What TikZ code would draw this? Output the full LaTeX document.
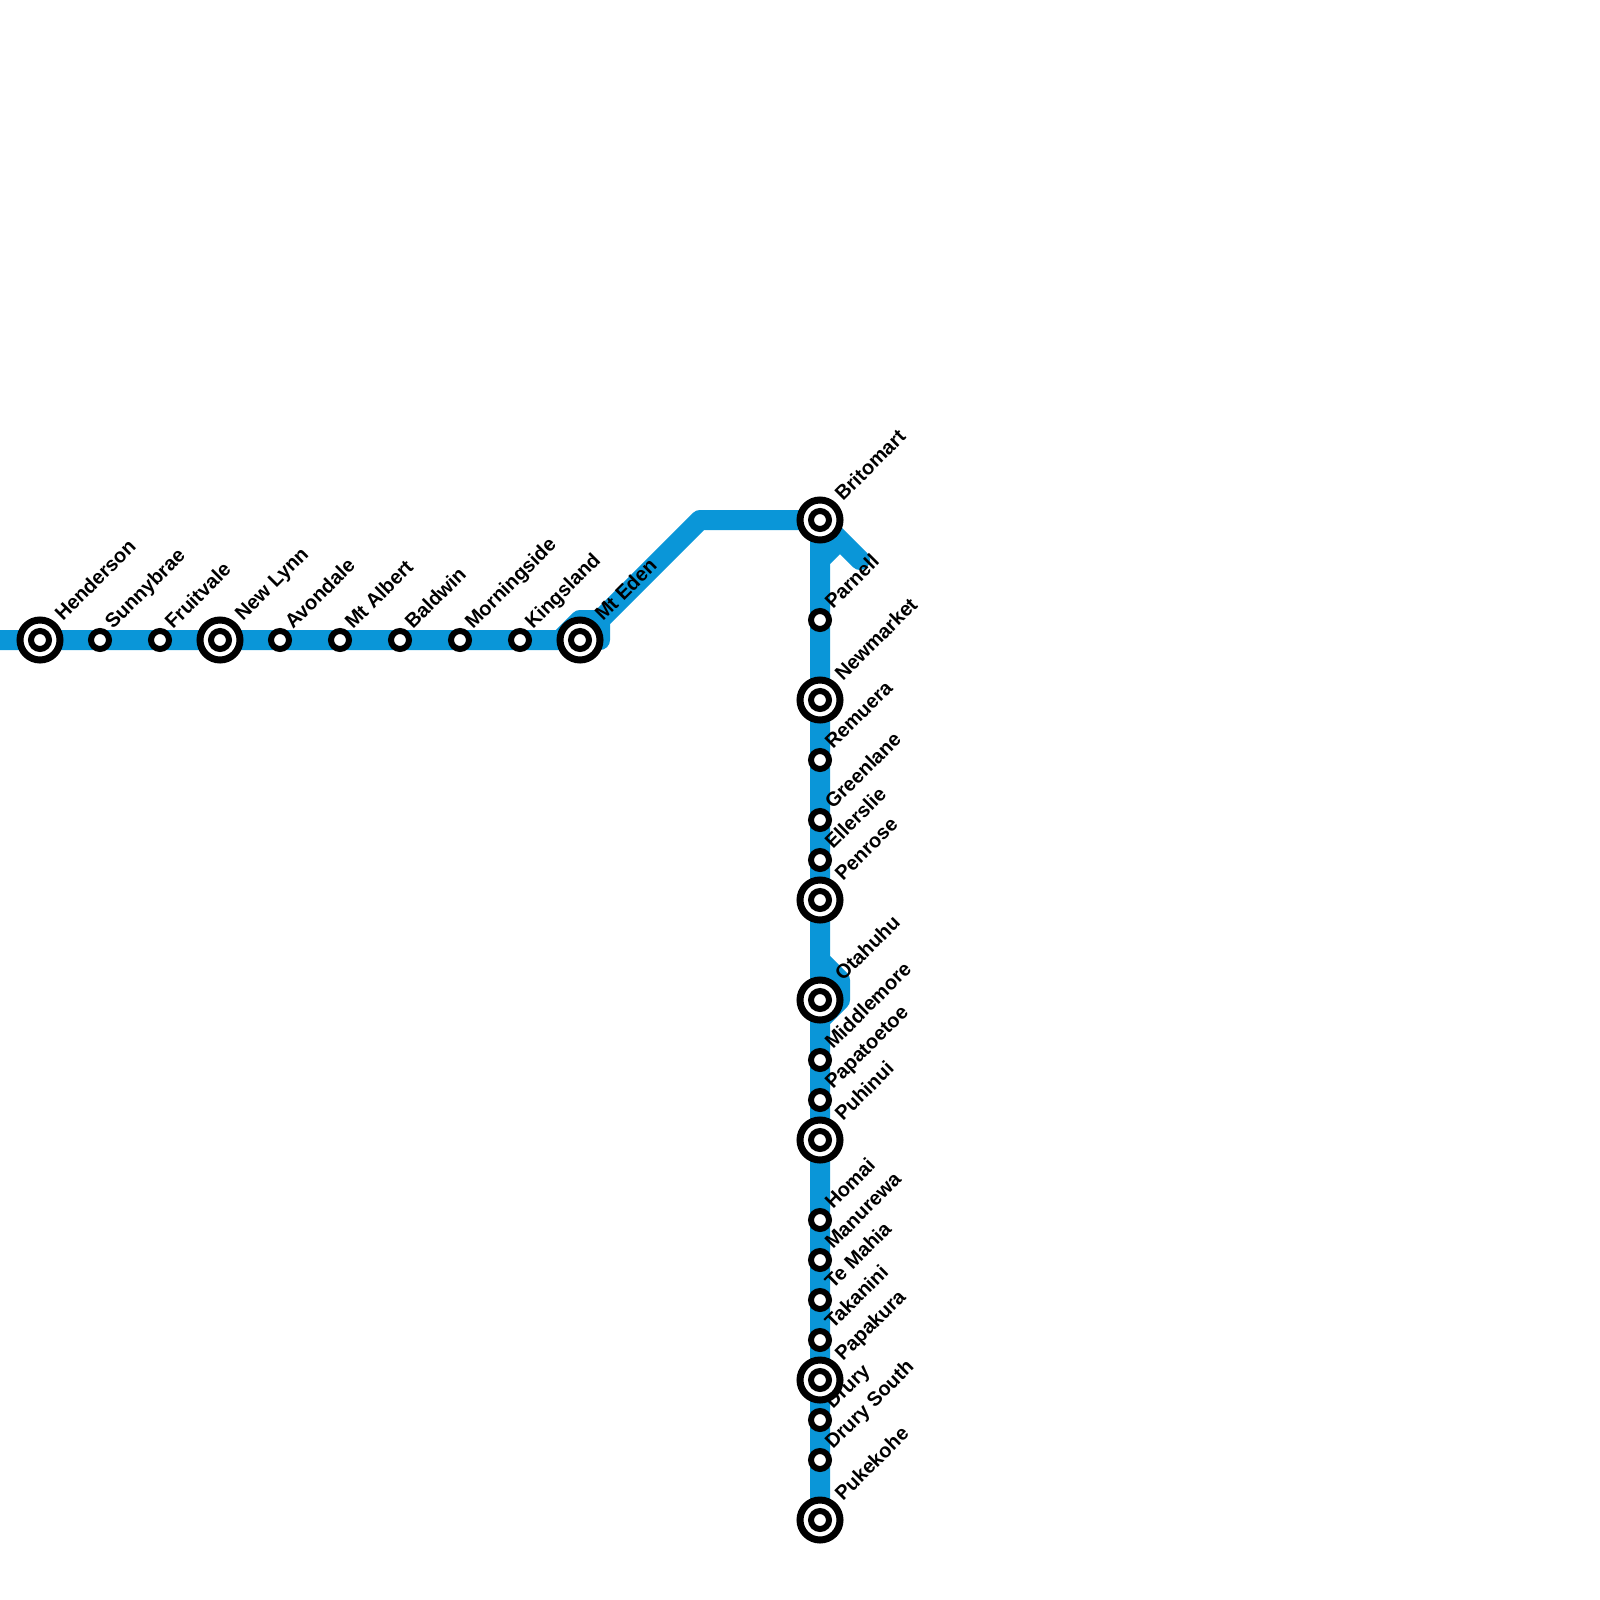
\documentclass[tikz,border=0pt]{standalone}
\usepackage{fontspec}
\setmainfont{Liberation Sans}
\usetikzlibrary{backgrounds,calc}
\definecolor{linecol}{HTML}{0A96D8}
\tikzset{
  metroline/.style={draw=linecol,line width=20pt,line join=round,line cap=round},
  bigst/.style={circle,draw=black,fill=white,line width=7pt,minimum size=40pt,inner sep=0pt,
    path picture={\draw[black,line width=6pt] (path picture bounding box.center) circle (9pt);}},
  smallst/.style={circle,draw=black,fill=white,line width=6pt,minimum size=18pt,inner sep=0pt},
  stlabel/.style={rotate=45,anchor=base west,inner sep=0pt,text=black,font=\bfseries\fontsize{20}{24}\selectfont}
}
\begin{document}
\begin{tikzpicture}[x=1pt,y=-1pt]
\useasboundingbox (0,0) rectangle (1600,1600);
\foreach \id/\px/\py/\txt in {
  henderson/40/640/Henderson, newlynn/220/640/New Lynn, mteden/580/640/Mt Eden,
  britomart/820/520/Britomart, newmarket/820/700/Newmarket, penrose/820/900/Penrose,
  otahuhu/820/1000/Otahuhu, puhinui/820/1140/Puhinui, papakura/820/1380/Papakura,
  pukekohe/820/1520/Pukekohe}{
  \node[bigst] (\id) at (\px,\py) {};
  \node[stlabel] (\id-l) at ($(\id)+(23,-18)$) {\txt};
}
\foreach \id/\px/\py/\txt in {
  sunnybrae/100/640/Sunnybrae, fruitvale/160/640/Fruitvale, avondale/280/640/Avondale,
  mtalbert/340/640/Mt Albert, baldwin/400/640/Baldwin, morningside/460/640/Morningside,
  kingsland/520/640/Kingsland, parnell/820/620/Parnell, remuera/820/760/Remuera,
  greenlane/820/820/Greenlane, ellerslie/820/860/Ellerslie, middlemore/820/1060/Middlemore,
  papatoetoe/820/1100/Papatoetoe, homai/820/1220/Homai, manurewa/820/1260/Manurewa,
  temahia/820/1300/Te Mahia, takanini/820/1340/Takanini, drury/820/1420/Drury,
  drurysouth/820/1460/Drury South}{
  \node[smallst] (\id) at (\px,\py) {};
  \node[stlabel] (\id-l) at ($(\id)+(13,-10)$) {\txt};
}
\coordinate (west) at (-20,640);
\begin{pgfonlayer}{background}
  \draw[metroline] (west) -- (henderson.center) -- (mteden.center)
    ++(-20,0) -- ++(20,-20) -- ++(20,0) -- ++(0,20) -- ++(0,-20)
    -- ++(100,-100) -- (britomart.center) -- ++(40,40) -- ++(-20,-20) -- ++(-20,20)
    -- ($(otahuhu.center)+(0,-40)$) -- ++(20,20) -- ++(0,20) -- ++(-20,20)
    -- (pukekohe.center);
  \draw[metroline] (britomart.center) -- (pukekohe.center);
\end{pgfonlayer}
\end{tikzpicture}
\end{document}
